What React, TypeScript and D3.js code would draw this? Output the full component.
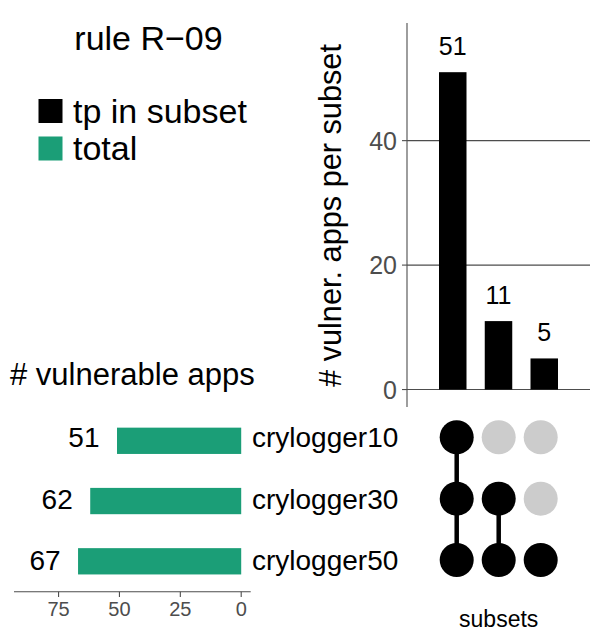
import React from "react";
import * as d3 from "d3";

const title = "rule R\u221209";
const legendLabels = ["tp in subset", "total"];
const legendColors = ["#000000", "#1B9E77"];

const sets = ["crylogger10", "crylogger30", "crylogger50"];
const setTotals = [51, 62, 67];

const intersections = [
  ["crylogger10", "crylogger30", "crylogger50"],
  ["crylogger30", "crylogger50"],
  ["crylogger50"],
];
const intersectionCounts = [51, 11, 5];

const upperTicks = [0, 20, 40];
const lowerTicks = [0, 25, 50, 75];

const upperYTitle = "# vulner. apps per subset";
const lowerTitle = "# vulnerable apps";
const matrixTitle = "subsets";

const FONT = "'Liberation Sans', Arial, Helvetica, sans-serif";
const AXIS = "#4D4D4D";

export default function App() {
  // upper intersection bar chart
  const yUp = d3.scaleLinear().domain([-2.805, 58.905]).range([407, 23]);
  const xUp = d3.scaleLinear().domain([0, 4]).range([407, 590]);
  const barW = 27.5;

  // matrix
  const xDot = d3.scalePoint<number>().domain([0, 1, 2]).range([456.7, 540.7]);
  const yDot = d3.scalePoint<string>().domain(sets).range([437.3, 560]);
  const yBar = d3.scalePoint<string>().domain(sets).range([440.8, 561.3]);
  const r = 17;

  // set size bars
  const xSet = d3.scaleLinear().domain([-3.9, 93.3]).range([250.7, 14]);
  const setBarH = 26.3;

  return (
    <svg width={598} height={642} style={{ position: "absolute", left: 0, top: 0 }} fontFamily={FONT}>
      <rect x={0} y={0} width={598} height={642} fill="#fff" />
      {/* title */}
      <text x={148.5} y={50} fontSize={34} textAnchor="middle" fill="#000">{title}</text>
      {/* legend */}
      {legendLabels.map((l, i) => (
        <g key={l}>
          <rect x={38.5} y={99 + i * 37.5} width={24} height={24} fill={legendColors[i]} />
          <text x={73} y={122.5 + i * 37.5} fontSize={34} fill="#000">{l}</text>
        </g>
      ))}

      {/* upper chart gridlines */}
      {upperTicks.map((t) => (
        <g key={t}>
          <line x1={407} x2={590} y1={yUp(t)} y2={yUp(t)} stroke={AXIS} strokeWidth={1.1} />
          <line x1={402} x2={407} y1={yUp(t)} y2={yUp(t)} stroke={AXIS} strokeWidth={1.1} />
          <text x={397} y={yUp(t)} dy="0.36em" fontSize={25} textAnchor="end" fill={AXIS}>{t}</text>
        </g>
      ))}
      <line x1={407} x2={407} y1={23} y2={407} stroke={AXIS} strokeWidth={1.1} />
      {intersectionCounts.map((c, i) => (
        <g key={i}>
          <rect x={xUp(i + 1) - barW / 2} y={yUp(c)} width={barW} height={yUp(0) - yUp(c)} fill="#000" />
          <text x={xUp(i + 1)} y={yUp(c) - 17} fontSize={25} textAnchor="middle" fill="#000">{c}</text>
        </g>
      ))}
      <text transform={`translate(341,215.5) rotate(-90)`} fontSize={30.7} textAnchor="middle" fill="#000">{upperYTitle}</text>

      {/* set size bars */}
      <text x={10} y={385} fontSize={31} fill="#000">{lowerTitle}</text>
      {sets.map((s, i) => (
        <g key={s}>
          <rect x={xSet(setTotals[i])} y={(yBar(s) as number) - setBarH / 2} width={xSet(0) - xSet(setTotals[i])} height={setBarH} fill="#1B9E77" />
          <text x={xSet(setTotals[i]) - 17.5} y={(yDot(s) as number) + 10} fontSize={28} textAnchor="end" fill="#000">{setTotals[i]}</text>
          <text x={252} y={(yDot(s) as number) + 10} fontSize={28} fill="#000">{s}</text>
        </g>
      ))}
      <line x1={14} x2={250.7} y1={591.7} y2={591.7} stroke={AXIS} strokeWidth={1.1} />
      {lowerTicks.map((t) => (
        <g key={t}>
          <line x1={xSet(t)} x2={xSet(t)} y1={591.7} y2={597} stroke={AXIS} strokeWidth={1.1} />
          <text x={xSet(t)} y={615.5} fontSize={20} textAnchor="middle" fill={AXIS}>{t}</text>
        </g>
      ))}

      {/* matrix */}
      {intersections.map((members, j) => {
        const ys = members.map((m) => yDot(m) as number);
        return (
          <g key={j}>
            <line x1={xDot(j)} x2={xDot(j)} y1={d3.min(ys)} y2={d3.max(ys)} stroke="#000" strokeWidth={4.5} />
            {sets.map((s) => (
              <circle key={s} cx={xDot(j)} cy={yDot(s)} r={r} fill={members.includes(s) ? "#000" : "#CCCCCC"} />
            ))}
          </g>
        );
      })}
      <text x={498.7} y={627} fontSize={23} textAnchor="middle" fill="#000">{matrixTitle}</text>
    </svg>
  );
}
